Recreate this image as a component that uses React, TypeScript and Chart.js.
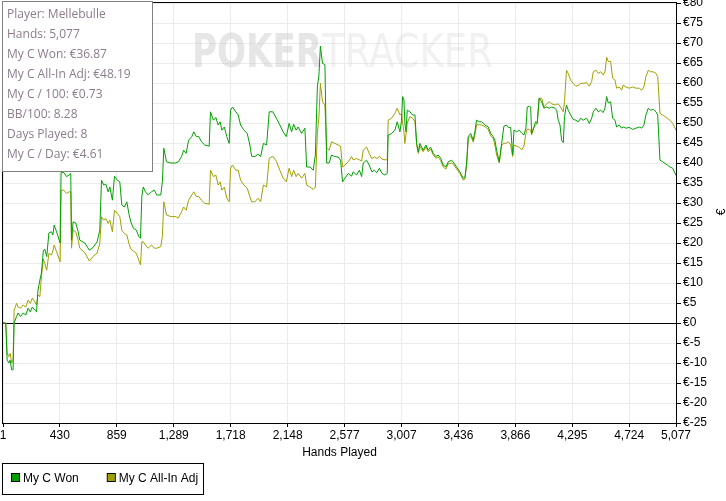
import React, { useEffect, useRef } from "react";
import { Chart, registerables } from "chart.js";

Chart.register(...registerables);

const hands = [1,22,32,45,55,66,77,85,103,115,133,153,173,190,207,222,241,254,264,279,291,305,316,331,347,367,377,387,405,432,439,460,480,500,512,518,530,550,568,580,618,652,678,711,731,744,761,777,794,807,826,842,863,882,897,916,935,950,965,984,1007,1025,1038,1048,1059,1075,1096,1121,1142,1161,1191,1203,1214,1234,1267,1305,1323,1348,1363,1382,1401,1425,1440,1459,1478,1498,1523,1556,1566,1588,1606,1624,1639,1652,1670,1689,1707,1717,1732,1757,1775,1793,1818,1843,1863,1876,1901,1925,1944,1965,1989,2009,2036,2063,2089,2114,2138,2159,2178,2193,2212,2227,2253,2278,2291,2316,2341,2357,2372,2384,2395,2411,2429,2442,2461,2479,2504,2529,2547,2562,2580,2605,2630,2642,2668,2689,2706,2718,2743,2763,2783,2802,2821,2840,2859,2881,2899,2906,2932,2957,2974,2995,3007,3015,3025,3032,3040,3050,3070,3090,3108,3121,3133,3145,3170,3191,3208,3226,3246,3266,3283,3302,3321,3342,3359,3385,3402,3422,3447,3472,3485,3498,3510,3528,3548,3560,3573,3593,3611,3636,3661,3679,3698,3711,3724,3744,3762,3779,3799,3812,3830,3845,3855,3875,3895,3915,3930,3945,3955,3971,3981,3988,4000,4017,4030,4045,4064,4081,4101,4121,4139,4164,4177,4189,4202,4214,4227,4236,4251,4264,4282,4302,4322,4340,4358,4377,4403,4423,4441,4453,4473,4491,4509,4528,4541,4554,4566,4584,4599,4617,4629,4649,4667,4679,4700,4724,4750,4775,4800,4818,4835,4850,4868,4886,4905,4926,4939,4956,4976,4994,5011,5031,5052,5077];

const wonValues = [0,0,-9.3,-10,-9.3,-11.7,-11.7,0,1.6,2.5,1.6,2.5,2,3.7,2.8,4,3.2,2.8,8,10.7,12.5,18,18.5,16.6,22.5,22.8,22,24.5,22.8,20,37.6,37.6,36.6,37,37.4,20.7,25.3,25,22.8,20.7,20,18.2,18.8,20.3,23.2,35.7,34.5,34.7,32.8,34,30.7,36.7,35.7,35.3,29.5,29,30.3,27.4,25.3,23.7,23.2,21.6,21.2,31.6,34,32.8,32,32.8,33.2,32,32,35.3,43.7,40.3,40,40,40.3,41.6,43.2,42.4,45.7,46.6,47.8,46.6,46.6,45.3,44.5,44.2,52.8,50.7,51.4,49.5,50.3,48.2,49,46.6,44.9,53.2,54,52.8,52,49.5,48.2,47.4,44.5,41.7,41.6,42.2,41.6,44.9,44.5,52.8,52.8,51.2,49.5,47.8,46.6,49.9,47.8,49.7,48.2,49,47.4,48.7,39,39,38.2,42,59,62,69.2,64.9,64.6,40,40,42,41.6,41.5,40.7,35.3,36.2,37.4,36.7,37.8,37,38.2,36.6,40,40.7,39.5,37.8,38.2,37.6,38.7,37.4,37,37.4,47,47.4,48.2,50.3,47.8,50.7,56.6,55.7,50,47.8,53.2,52.8,52,52,44.9,42.8,44.9,43.2,44.5,43.2,44,42.4,41.6,42,41.2,39.5,39,40.3,40.7,40,39,37.8,36.2,36.4,40,46.6,47.4,45.7,47.8,50.7,50.3,50.3,49.5,49,47.4,46.6,45.7,43.2,40.3,44.9,49.2,49.5,48.9,48.9,42,48.2,47.8,48.2,47.4,47,48.7,54,54.2,54,47.4,48.2,50.3,49.9,56.2,55.3,53.7,54,53.7,54,53.7,53.2,50.7,49.5,45.7,45.1,51.6,54.5,53.2,52,50.9,50.7,50.3,51.2,50.7,51.2,49.9,51.2,52.8,53.7,52.8,53.2,52.6,53.7,56.6,55,55.3,51.2,50.7,49,49.5,48.7,49,48.7,48.9,48.4,48.7,49,48.7,49.5,52,53.7,53.2,53.4,52.8,52,40.7,40.3,39.9,39.5,39,38.7,36.87];

const allInValues = [0,0,-7.5,-8.4,-7.6,-10,-9.2,3.2,4.9,4,3.7,4.5,4,5.7,4.9,6.2,5.3,4.5,7,6.6,11.6,16,14.9,13.2,17.4,17,18,19.5,17.8,15.3,33.2,33.2,32.4,32.8,32.8,18.7,23.2,22.8,20.7,18.7,17.6,15.5,16.6,17.5,19.9,26.6,25.7,26.1,24.9,25.7,22.8,28.2,27.4,26.6,23.2,22.4,22,20,18.5,18,17.4,15.7,14.5,20.3,20.3,19.5,18.7,19.5,18.7,18.7,19.1,21.6,30.3,27,26.6,26.6,26.2,27.8,29,28.2,30.7,32,32.8,31.6,31.6,30.7,29.9,29.7,38.2,36.6,37,34.5,35.3,33.2,34,31.2,30.3,38.7,39.5,38.2,38.2,35.7,34.5,33.7,31.6,30.3,30.3,31.2,30.3,34.5,34,41.2,41.7,40.4,38.2,36.2,35.3,38.7,36.6,38.2,36.6,37.4,36.2,37.4,34.5,34,33.4,34,47.4,51.6,59.9,55.3,54.5,43.7,43.2,45.3,44.9,44.5,44.2,39,39.5,40.3,41.6,40.8,41.1,40.8,40.5,43.2,44,42.4,41.1,41.5,41.1,41.7,41,40.8,40.8,50.7,51.2,52.4,53.7,52,52.4,50,47.8,44.9,47,50,51.6,51.2,50.3,44.5,42.4,44.2,42.8,44,42.8,43.5,42,41.2,41.5,40.6,39,38.5,39.8,40,39.5,38.5,37.4,35.7,36,39.5,46.2,46.8,45.2,47,49.5,49.6,49.5,49.1,48.4,46.8,46.2,44.5,42,40,44.5,44.9,45,45.3,44.5,41.6,44.5,44.2,43.9,43.3,44.2,47.4,48.5,48.4,48.2,47,48.7,49.5,49.9,56.2,56.2,54,54.8,55.3,54.8,54.5,54.6,54.8,54.2,53.5,52.8,55.3,63.2,62.4,60.7,59.9,59.2,59.4,59.9,59.9,60.1,59.2,60.4,62.8,63.2,62.4,62.8,62,62.8,66.4,65.4,65.4,61.2,60.7,58.7,59,58.2,59.5,59,58.7,59,58.7,58.7,58.2,59,61.6,63.2,62.8,62.8,62.4,61.6,52.4,52,51.6,51.2,50.7,49.9,48.19];

const xTickValues = [1, 430, 859, 1289, 1718, 2148, 2577, 3007, 3436, 3866, 4295, 4724, 5077];
const yMin = -25;
const yMax = 80;
const yStep = 5;

const seriesLabels = ["My C Won", "My C All-In Adj"];
const seriesColors = ["#00a000", "#a0a000"];

const infoLines = [
  "Player: Mellebulle",
  "Hands: 5,077",
  "My C Won: €36.87",
  "My C All-In Adj: €48.19",
  "My C / 100: €0.73",
  "BB/100: 8.28",
  "Days Played: 8",
  "My C / Day: €4.61",
];

const FONT = "'Liberation Sans', Arial, sans-serif";

const framePlugin = {
  id: "frameAndExtras",
  beforeDatasetsDraw(chart: any) {
    const { ctx, chartArea } = chart;
    ctx.save();
    ctx.beginPath();
    ctx.rect(chartArea.left, chartArea.top, chartArea.right - chartArea.left, chartArea.bottom - chartArea.top);
    ctx.clip();
    ctx.textBaseline = "alphabetic";
    ctx.textAlign = "left";
    const baseY = 67;
    ctx.font = "bold 46px 'DejaVu Sans', sans-serif";
    const w1 = ctx.measureText("POKER").width;
    ctx.save();
    ctx.translate(192, baseY);
    ctx.scale(130 / w1, 1);
    ctx.fillStyle = "rgba(200,200,200,0.45)";
    ctx.fillText("POKER", 0, 0);
    ctx.restore();
    ctx.font = "46px 'DejaVu Sans', sans-serif";
    const w2 = ctx.measureText("TRACKER").width;
    ctx.save();
    ctx.translate(322, baseY);
    ctx.scale(171 / w2, 1);
    ctx.fillStyle = "rgba(215,215,215,0.35)";
    ctx.fillText("TRACKER", 0, 0);
    ctx.restore();
    ctx.restore();
  },
  afterDraw(chart: any) {
    const { ctx, chartArea } = chart;
    ctx.save();
    // frame
    ctx.strokeStyle = "#000";
    ctx.lineWidth = 1;
    ctx.strokeRect(chartArea.left - 0.5, chartArea.top - 0.5, chartArea.right - chartArea.left + 1, chartArea.bottom - chartArea.top + 1);

    // info box
    ctx.fillStyle = "#fff";
    ctx.fillRect(2, 1, 151, 171);
    ctx.strokeStyle = "#808080";
    ctx.strokeRect(2.5, 1.5, 150, 170);
    ctx.fillStyle = "#8c7b8c";
    ctx.font = "12px 'Open Sans', sans-serif";
    ctx.textBaseline = "middle";
    ctx.textAlign = "left";
    infoLines.forEach((t, i) => ctx.fillText(t, 7, 15 + i * 20));

    // y axis title
    ctx.save();
    ctx.translate(722, 212);
    ctx.rotate(-Math.PI / 2);
    ctx.fillStyle = "#000";
    ctx.font = "12px " + FONT;
    ctx.textAlign = "center";
    ctx.fillText("€", 0, 0);
    ctx.restore();

    // legend
    ctx.strokeStyle = "#000";
    ctx.strokeRect(2.5, 463.5, 201, 31);
    ctx.font = "12px " + FONT;
    ctx.textBaseline = "middle";
    let x = 12;
    chart.data.datasets.forEach((ds: any) => {
      ctx.fillStyle = ds.borderColor;
      ctx.fillRect(x, 474, 7, 7);
      ctx.strokeStyle = "#000";
      ctx.strokeRect(x - 0.5, 473.5, 8, 8);
      ctx.fillStyle = "#000";
      ctx.fillText(ds.label, x + 11, 479);
      x += 11 + ctx.measureText(ds.label).width + 29;
    });
    ctx.restore();
  },
};

export default function App() {
  const canvasRef = useRef<HTMLCanvasElement | null>(null);

  useEffect(() => {
    if (!canvasRef.current) return;
    const wonData = hands.map((h, i) => ({ x: h, y: wonValues[i] }));
    const allInData = hands.map((h, i) => ({ x: h, y: allInValues[i] }));
    const chart = new Chart(canvasRef.current, {
      type: "line",
      data: {
        datasets: [
          {
            label: seriesLabels[0],
            data: wonData,
            borderColor: seriesColors[0],
            backgroundColor: seriesColors[0],
            borderWidth: 1,
            pointRadius: 0,
            tension: 0,
          },
          {
            label: seriesLabels[1],
            data: allInData,
            borderColor: seriesColors[1],
            backgroundColor: seriesColors[1],
            borderWidth: 1,
            pointRadius: 0,
            tension: 0,
          },
        ],
      },
      options: {
        animation: false,
        responsive: false,
        devicePixelRatio: 1,
        layout: { padding: { left: 3, top: 3, right: 0, bottom: 38 } },
        plugins: {
          legend: { display: false },
          tooltip: { enabled: false },
        },
        scales: {
          x: {
            type: "linear",
            min: 1,
            max: 5077,
            afterBuildTicks: (scale: any) => {
              scale.ticks = xTickValues.map((v) => ({ value: v }));
            },
            afterFit: (scale: any) => {
              scale.height = 40;
              scale.paddingLeft = 0;
              scale.paddingRight = 0;
            },
            ticks: {
              autoSkip: false,
              maxRotation: 0,
              padding: 1,
              color: "#000",
              font: { family: FONT, size: 12 },
              callback: (v: any) => Number(v).toLocaleString("en-US"),
            },
            grid: {
              color: "#ebebeb",
              tickColor: "#000",
              tickLength: 4,
            },
            border: { color: "#000" },
            title: {
              display: true,
              text: "Hands Played",
              color: "#000",
              font: { family: FONT, size: 12 },
              padding: { top: 0, bottom: 3 },
            },
          },
          y: {
            position: "right",
            min: yMin,
            max: yMax,
            afterFit: (scale: any) => {
              scale.width = 50;
              scale.paddingTop = 0;
              scale.paddingBottom = 0;
            },
            ticks: {
              stepSize: yStep,
              padding: 2,
              color: "#000",
              font: { family: FONT, size: 12 },
              callback: (v: any) => "€" + v,
            },
            grid: {
              color: (c: any) => (c.tick && c.tick.value === 0 ? "#000" : "#ebebeb"),
              tickColor: "#000",
              tickLength: 5,
            },
            border: { color: "#000" },
          },
        },
      },
      plugins: [framePlugin],
    });
    return () => chart.destroy();
  }, []);

  return (
    <div style={{ position: "fixed", left: 0, top: 0, width: 726, height: 501, background: "#fff" }}>
      <canvas ref={canvasRef} width={726} height={501} style={{ display: "block" }} />
    </div>
  );
}
